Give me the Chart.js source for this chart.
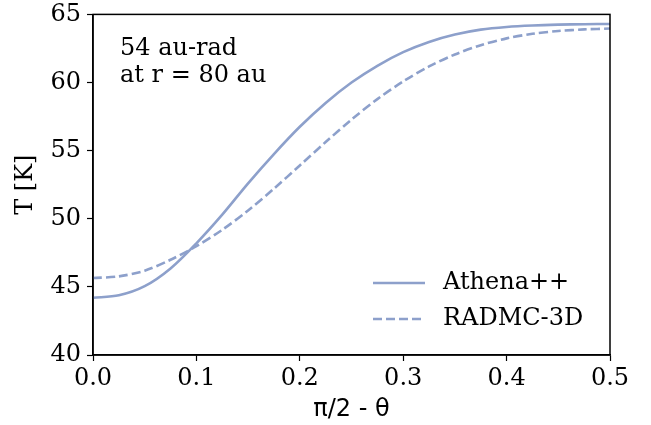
<!DOCTYPE html>
<html>
<head>
<meta charset="utf-8">
<script src="https://cdn.jsdelivr.net/npm/chart.js@4"></script>
<style>
  html, body { margin: 0; padding: 0; background: #fff; }
  #wrap { width: 651px; height: 425px; }
</style>
</head>
<body>
<div id="wrap"><canvas id="tempChart" width="651" height="425"></canvas></div>
<script>
// polar angle from the midplane, pi/2 - theta
const angles = [0, 0.025, 0.05, 0.075, 0.1, 0.125, 0.15, 0.175, 0.2, 0.225, 0.25,
  0.275, 0.3, 0.325, 0.35, 0.375, 0.4, 0.425, 0.45, 0.475, 0.5];
// temperature [K] at r = 80 au
const athenaT = [44.2, 44.38, 45.05, 46.35, 48.2, 50.3, 52.6, 54.75, 56.75, 58.5, 60.0,
  61.23, 62.23, 62.98, 63.52, 63.88, 64.08, 64.19, 64.25, 64.28, 64.3];
const radmcT = [45.65, 45.77, 46.19, 46.99, 47.99, 49.19, 50.61, 52.21, 53.91, 55.63, 57.28,
  58.78, 60.08, 61.18, 62.06, 62.74, 63.24, 63.58, 63.78, 63.9, 63.96];
const xTicks = [0, 0.1, 0.2, 0.3, 0.4, 0.5];
const yTicks = [40, 45, 50, 55, 60, 65];

const lineColor = "#8da0cb";
const serif = "'DejaVu Serif', serif";
const sans = "'DejaVu Sans', sans-serif";

function toPoints(ys) {
  return angles.map((x, i) => ({ x: x, y: ys[i] }));
}

// frame, axis titles, note text and legend drawn on top of the plot
const overlay = {
  id: "overlay",
  afterDraw(chart) {
    const ctx = chart.ctx;
    const a = chart.chartArea;
    ctx.save();
    ctx.strokeStyle = "#000";
    ctx.lineWidth = 1.5;
    ctx.strokeRect(a.left, a.top, a.right - a.left, a.bottom - a.top);

    ctx.fillStyle = "#000";
    ctx.textAlign = "center";
    ctx.textBaseline = "middle";
    ctx.font = "24px " + sans;
    ctx.fillText("π/2 - θ", (a.left + a.right) / 2, 410);

    ctx.save();
    ctx.translate(26, (a.top + a.bottom) / 2);
    ctx.rotate(-Math.PI / 2);
    ctx.font = "24px " + serif;
    ctx.fillText("T [K]", 0, 0);
    ctx.restore();

    ctx.font = "24px " + serif;
    ctx.textBaseline = "alphabetic";
    ctx.textAlign = "left";
    ctx.fillText("54 au-rad", 120, 55);
    ctx.fillText("at r = 80 au", 120, 82);

    chart.data.datasets.forEach((ds, i) => {
      const y = 283 + i * 36;
      ctx.strokeStyle = ds.borderColor;
      ctx.lineWidth = ds.borderWidth;
      ctx.setLineDash(ds.borderDash || []);
      ctx.beginPath();
      ctx.moveTo(373, y);
      ctx.lineTo(425, y);
      ctx.stroke();
      ctx.setLineDash([]);
      ctx.fillStyle = "#000";
      ctx.textBaseline = "middle";
      ctx.fillText(ds.label, 443, y);
    });
    ctx.restore();
  }
};

new Chart(document.getElementById("tempChart"), {
  type: "line",
  data: {
    datasets: [
      {
        label: "Athena++",
        data: toPoints(athenaT),
        borderColor: lineColor,
        borderWidth: 2.6,
        pointRadius: 0,
        tension: 0.3,
      },
      {
        label: "RADMC-3D",
        data: toPoints(radmcT),
        borderColor: lineColor,
        borderWidth: 2.6,
        borderDash: [9, 4],
        pointRadius: 0,
        tension: 0.3,
      },
    ],
  },
  options: {
    responsive: false,
    animation: false,
    layout: { padding: { top: 0, right: 41, left: 0, bottom: 0 } },
    plugins: {
      legend: { display: false },
      tooltip: { enabled: false },
    },
    scales: {
      x: {
        type: "linear",
        min: 0,
        max: 0.5,
        afterBuildTicks: (s) => { s.ticks = xTicks.map((v) => ({ value: v })); },
        afterFit: (s) => { s.height = 70; },
        grid: { drawOnChartArea: false, drawTicks: true, tickLength: 6, color: "#000", tickWidth: 1.2 },
        border: { display: true, color: "#000", width: 1.5 },
        ticks: {
          color: "#000",
          font: { family: serif, size: 24 },
          padding: 3,
          maxRotation: 0,
          callback: (v) => v.toFixed(1),
        },
      },
      y: {
        min: 40,
        max: 65,
        afterBuildTicks: (s) => { s.ticks = yTicks.map((v) => ({ value: v })); },
        afterFit: (s) => { s.width = 93; },
        grid: { drawOnChartArea: false, drawTicks: true, tickLength: 6, color: "#000", tickWidth: 1.2 },
        border: { display: true, color: "#000", width: 1.5 },
        ticks: {
          color: "#000",
          font: { family: serif, size: 24, lineHeight: 0.7 },
          padding: 6,
        },
      },
    },
  },
  plugins: [overlay],
});
</script>
</body>
</html>
